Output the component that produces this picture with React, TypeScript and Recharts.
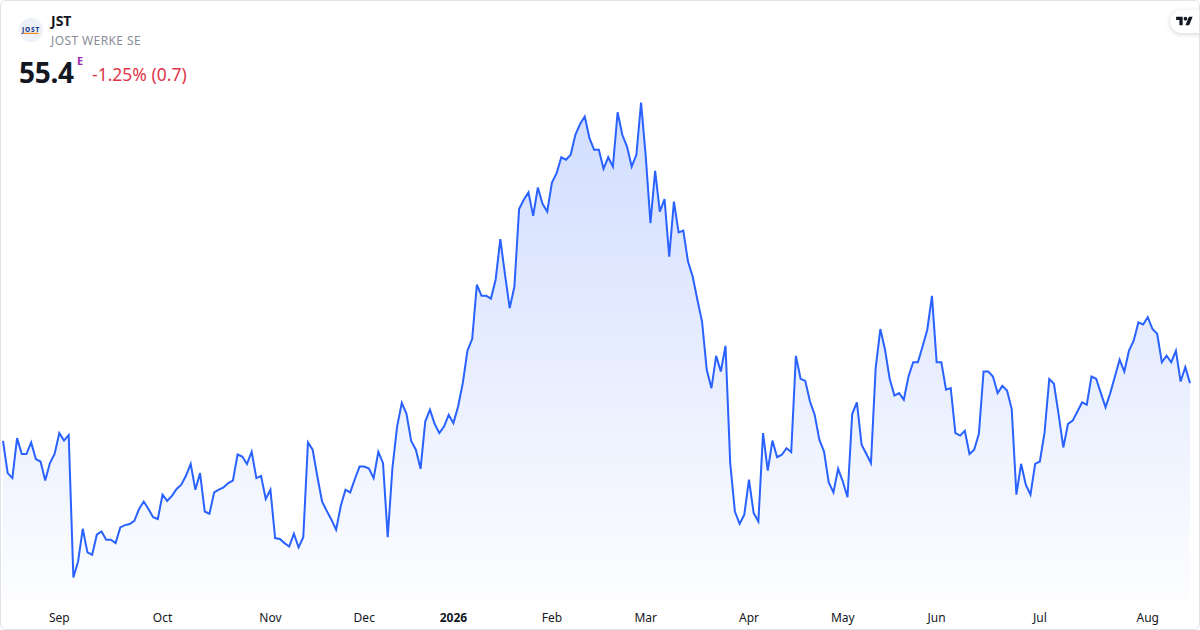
import { AreaChart, Area, XAxis, YAxis } from "recharts";

// daily closes (Aug 2025 -> Aug 2026)
const closes = [
  52.86, 51.44, 51.22, 52.98, 52.28, 52.28, 52.79, 52.06, 51.95, 51.11, 51.88, 52.28, 53.2, 52.87, 53.11,
  46.85, 47.55, 48.99, 47.95, 47.85, 48.73, 48.87, 48.51, 48.51, 48.36, 49.05, 49.15, 49.2, 49.34, 49.86,
  50.19, 49.86, 49.5, 49.42, 50.49, 50.22, 50.44, 50.74, 50.93, 51.32, 51.85, 50.71, 51.44,
  49.75, 49.65, 50.59, 50.71, 50.81, 51.0, 51.11, 52.26, 52.17, 51.84, 52.38, 51.22, 51.32, 50.3, 50.71,
  48.58, 48.54, 48.36, 48.21, 48.77, 48.17, 48.62, 52.79, 52.47, 51.29, 50.19, 49.78, 49.39, 48.95, 50.0,
  50.71, 50.59, 51.18, 51.73, 51.73, 51.64, 51.22, 52.38, 51.88, 48.62, 51.66, 53.49, 54.53,
  54.05, 52.86, 52.47, 51.63, 53.71, 54.23, 53.61, 53.2, 53.49, 54.01, 53.64, 54.37, 55.4, 56.83, 57.34,
  59.73, 59.24, 59.24, 59.12, 59.95, 61.74, 60.17, 58.7, 59.65, 63.06, 63.47, 63.79, 62.76, 64.01,
  63.29, 62.95, 64.23, 64.64, 65.34, 65.23, 65.45, 66.33, 66.8, 67.13, 66.18, 65.67, 65.67, 64.83, 65.34,
  64.93, 67.32, 66.33, 65.81, 64.93, 65.45, 67.75, 65.37, 62.44, 64.74, 62.95, 63.5, 60.97, 63.39, 62.03,
  62.11, 60.75, 60.09,
  59.07, 58.11, 55.99, 55.18, 56.6, 55.91, 57.04, 51.88, 49.75, 49.21, 49.61, 51.15, 49.68, 49.31, 53.2,
  51.55, 52.87, 52.14, 52.25, 52.54, 52.36, 56.6, 55.59, 55.5, 54.59, 54.01, 52.91, 52.39, 51.03, 50.59,
  51.63, 51.07, 50.38, 54.04, 54.55, 52.69, 52.29, 51.88, 56.06, 57.78, 56.87, 55.58, 54.85, 54.96, 54.67,
  55.69, 56.32, 56.32, 57.01, 57.75, 59.24, 56.32, 56.32, 55.11, 55.18, 53.2, 53.09, 53.3, 52.28, 52.47,
  53.17, 55.91, 55.91, 55.69, 54.96,
  55.28, 55.07, 54.26, 50.49, 51.85, 50.93, 50.49, 51.85, 51.95, 53.23, 55.58, 55.37, 54.01, 52.57, 53.61,
  53.75, 54.15, 54.55, 54.45, 55.69, 55.59, 54.96, 54.34, 54.96, 55.69, 56.43, 55.91, 56.83, 57.27, 58.07,
  57.98, 58.3, 57.78, 57.57, 56.32, 56.61, 56.32, 56.83, 55.47, 56.1, 55.4,
];

// first trading day of each month (index into closes)
const tickIndex = [12, 34, 57, 77, 96, 117, 137, 159, 179, 199, 221, 244];
const tickLabels = ["Sep", "Oct", "Nov", "Dec", "2026", "Feb", "Mar", "Apr", "May", "Jun", "Jul", "Aug"];

const symbol = "JST";
const company = "JOST WERKE SE";
const lastPrice = "55.4";
const changeText = "-1.25% (0.7)";

const data = closes.map((c, i) => ({ i, c }));

const FONT = "'Noto Sans', 'Open Sans', sans-serif";

function MonthTick({ x, y, payload }: any) {
  const k = tickIndex.indexOf(payload.value);
  const label = tickLabels[k] ?? "";
  const isYear = /^\d{4}$/.test(label);
  return (
    <text
      x={x}
      y={y}
      dy="0.71em"
      textAnchor="middle"
      fontFamily={FONT}
      fontSize={12}
      fontWeight={isYear ? 700 : 400}
      fill="#131722"
    >
      {label}
    </text>
  );
}

export default function App() {
  return (
    <div
      style={{
        position: "relative",
        width: 1200,
        height: 630,
        background: "#fff",
        fontFamily: FONT,
        overflow: "hidden",
      }}
    >
      <style>{`body{margin:0}`}</style>

      <div style={{ position: "absolute", left: 0, top: 0 }}>
        <AreaChart
          width={1200}
          height={630}
          data={data}
          margin={{ top: 90, right: 10, left: 3, bottom: 1 }}
        >
          <defs>
            <linearGradient id="fillPrice" x1="0" y1="0" x2="0" y2="1">
              <stop offset="0%" stopColor="#2962ff" stopOpacity={0.36} />
              <stop offset="100%" stopColor="#2962ff" stopOpacity={0.02} />
            </linearGradient>
          </defs>
          <XAxis
            dataKey="i"
            type="number"
            domain={[0, closes.length - 1]}
            ticks={tickIndex}
            interval={0}
            axisLine={false}
            tickLine={false}
            tickMargin={8}
            height={30}
            tick={<MonthTick />}
          />
          <YAxis hide domain={[45.9, 68.3]} />
          <Area
            type="linear"
            dataKey="c"
            stroke="#2962ff"
            strokeWidth={2}
            fill="url(#fillPrice)"
            dot={false}
            activeDot={false}
            isAnimationActive={false}
          />
        </AreaChart>
      </div>

      {/* header */}
      <div
        style={{
          position: "absolute",
          left: 19,
          top: 18,
          width: 24,
          height: 24,
          borderRadius: "50%",
          background: "#eef1f8",
        }}
      >
        <svg width={24} height={24} viewBox="0 0 24 24">
          <text
            x={12}
            y={13.6}
            textAnchor="middle"
            fontFamily={FONT}
            fontSize={6.5}
            fontWeight={800}
            fill="#1d3c8f"
            letterSpacing={0.8}
          >
            JOST
          </text>
          <rect x={4.5} y={14.8} width={15} height={1.2} fill="#f08a1c" />
        </svg>
      </div>
      <div
        style={{
          position: "absolute",
          left: 51,
          top: 11,
          fontSize: 14,
          fontWeight: 700,
          color: "#131722",
          lineHeight: "20px",
        }}
      >
        {symbol}
      </div>
      <div
        style={{
          position: "absolute",
          left: 51,
          top: 32,
          fontSize: 12,
          color: "#8a8d97",
          lineHeight: "18px",
          letterSpacing: 0.4,
        }}
      >
        {company}
      </div>
      <div
        style={{
          position: "absolute",
          left: 19,
          top: 54,
          fontSize: 28,
          fontWeight: 700,
          color: "#131722",
          lineHeight: "36px",
          letterSpacing: -0.3,
        }}
      >
        {lastPrice}
      </div>
      <div
        style={{
          position: "absolute",
          left: 77,
          top: 53,
          fontSize: 11,
          fontWeight: 700,
          color: "#9c27b0",
          lineHeight: "16px",
        }}
      >
        E
      </div>
      <div
        style={{
          position: "absolute",
          left: 92,
          top: 62,
          fontSize: 17.5,
          color: "#e0364a",
          lineHeight: "24px",
        }}
      >
        {changeText}
      </div>

      {/* TradingView badge */}
      <div
        style={{
          position: "absolute",
          left: 1170,
          top: 10,
          width: 40,
          height: 23,
          borderRadius: 12,
          background: "#fff",
          boxShadow: "0 1px 5px rgba(0,0,0,0.18)",
        }}
      >
        <svg
          width={17}
          height={13}
          viewBox="0 0 36 28"
          style={{ position: "absolute", left: 6, top: 5 }}
        >
          <path d="M14 22H7V11H0V4h14v18zM28 22h-8l7.5-18h8L28 22z" fill="#131722" />
          <circle cx={20} cy={8} r={4} fill="#131722" />
        </svg>
      </div>

      {/* card border */}
      <div
        style={{
          position: "absolute",
          inset: 0,
          border: "1px solid #e0e3eb",
          borderRadius: 6,
          pointerEvents: "none",
        }}
      />
    </div>
  );
}
